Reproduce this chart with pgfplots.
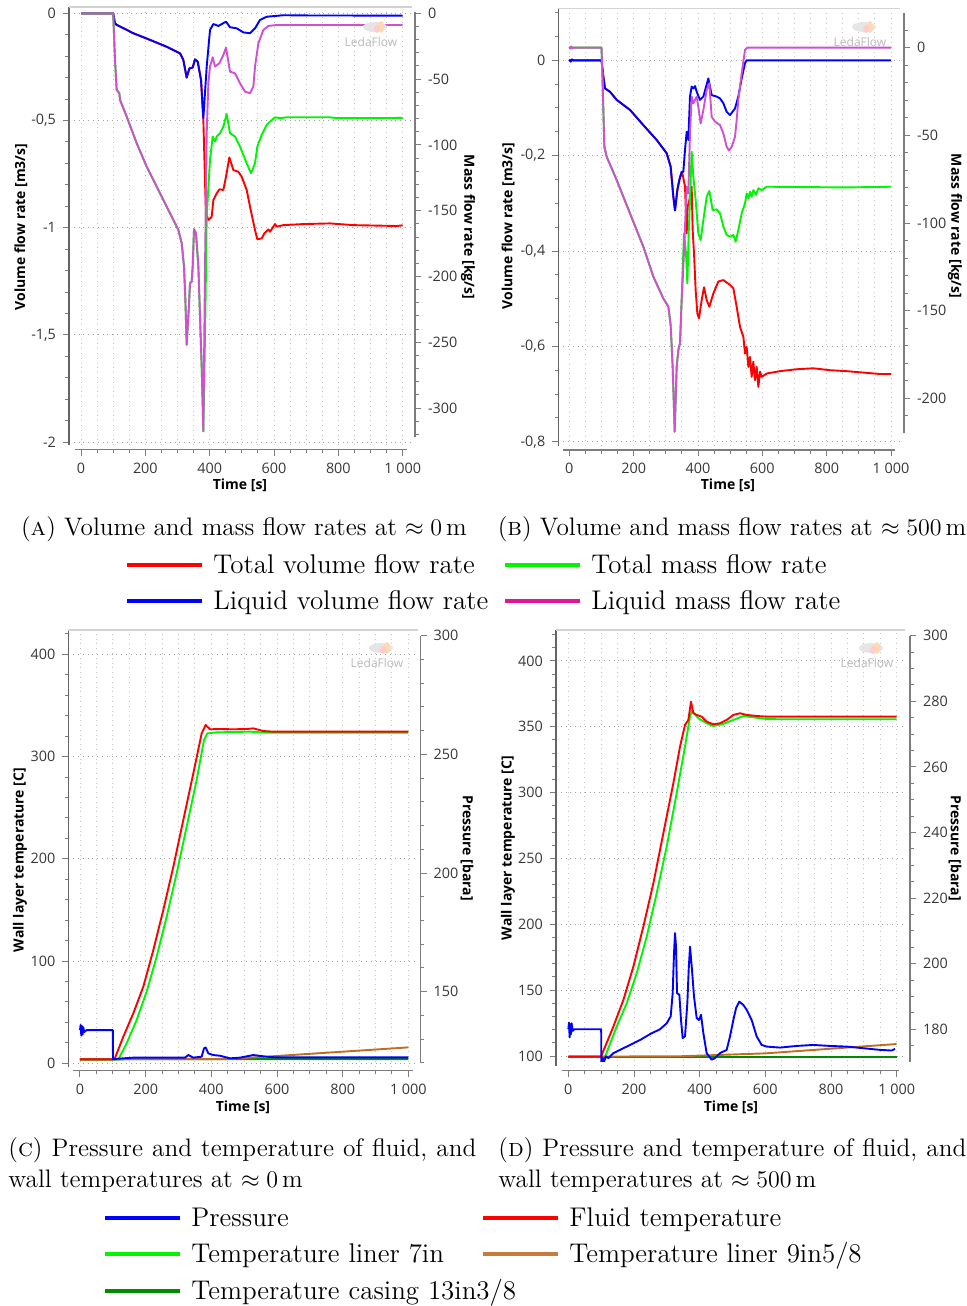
\documentclass[border=0pt]{standalone}
\usepackage{pgfplots}
\pgfplotsset{compat=1.18}
\usepackage{fontspec}
\newfontfamily\leda{Open Sans}

\definecolor{lred}{RGB}{255,0,0}
\definecolor{lgreen}{RGB}{0,245,0}
\definecolor{lblue}{RGB}{0,0,255}
\definecolor{lmag}{RGB}{208,80,208}
\definecolor{legmag}{RGB}{228,20,150}
\definecolor{lbrown}{RGB}{190,110,30}
\definecolor{legbrown}{RGB}{198,124,60}
\definecolor{ldgreen}{RGB}{0,140,0}
\definecolor{axgray}{RGB}{125,125,125}
\definecolor{ticktext}{RGB}{55,55,55}
\definecolor{gridgray}{RGB}{195,195,195}

\pgfplotsset{
  lbase/.style={scale only axis, anchor=south west,
    tick label style={font=\leda\fontsize{7.2}{8.6}\selectfont, text=ticktext},
    tick align=outside, major tick length=3pt, minor tick length=1.8pt,
    every tick/.style={axgray, line width=0.5pt}},
  lleft/.style={lbase, axis x line*=bottom, axis y line*=left,
    x axis line style={draw=none}, xtick={0,50,...,1000}, xticklabels={},
    xtick style={draw=none}, xmajorgrids, ymajorgrids,
    major x grid style={dotted, gridgray, line width=0.45pt},
    major y grid style={dotted, gray!75, line width=0.5pt},
    y axis line style={axgray!80!black, line width=0.8pt},
    after end axis/.code={\draw[gray!35, line width=0.7pt] (rel axis cs:0,1)--(rel axis cs:1,1);}},
  lright/.style={lbase, axis x line=none, axis y line*=right,
    y axis line style={axgray, line width=0.7pt}},
  lbottom/.style={lbase, axis x line*=bottom, axis y line=none, height=2pt, ymin=0, ymax=1,
    xtick={0,200,...,1000}, minor xtick={50,100,...,950},
    xticklabels={0,200,400,600,800,{1 000}},
    x axis line style={axgray, line width=0.7pt}},
  ser/.style={line width=0.95pt, line join=round}
}

\begin{document}
\begin{tikzpicture}[x=0.5pt,y=-0.5pt]
\useasboundingbox (0,0) rectangle (966,1306);

% ---------------- panel A ----------------
\begin{axis}[lleft, at={(34.5pt,-222.5pt)}, width=171.5pt, height=219pt,
  xmin=-37.3, xmax=1028.9, ymin=-2.0135, ymax=0.0294,
  ytick={-2,-1.5,-1,-0.5,0}, yticklabels={{-2},{-1,5},{-1},{-0,5},{0}},
  minor ytick={-2,-1.9,...,0}]
\addplot[ser, lred] coordinates {(0,0) (100,0) (105.7,-0.047) (110.9,-0.054) (162.7,-0.093) (214.5,-0.124) (266.3,-0.156) (307.8,-0.187) (318.1,-0.218) (328.5,-0.300) (336.8,-0.257) (347.2,-0.253) (354.4,-0.215) (362.7,-0.225) (373.1,-0.311) (380.3,-0.498) (388.3,-0.933) (395.9,-0.964) (406.2,-0.949) (411.4,-0.871) (421.8,-0.840) (430.1,-0.821) (442.5,-0.824) (450.8,-0.762) (461.1,-0.672) (473.6,-0.731) (489.1,-0.739) (499.5,-0.762) (515.0,-0.824) (525.4,-0.902) (540.9,-1.011) (548.2,-1.054) (561.7,-1.050) (570.0,-1.026) (582.4,-1.008) (587.6,-1.019) (603.1,-0.983) (608.3,-0.995) (629.0,-0.988) (691.2,-0.983) (774.1,-0.980) (846.6,-0.988) (981.3,-0.992) (1000,-0.989)};
\addplot[ser, lblue] coordinates {(0,0) (100,0) (105.7,-0.047) (110.9,-0.054) (162.7,-0.093) (214.5,-0.124) (266.3,-0.156) (307.8,-0.187) (318.1,-0.218) (328.5,-0.300) (336.8,-0.257) (347.2,-0.253) (354.4,-0.215) (362.7,-0.225) (373.1,-0.311) (380.3,-0.490) (390.7,-0.249) (401.0,-0.078) (411.4,-0.050) (426.9,-0.059) (450.8,-0.039) (463.2,-0.065) (483.9,-0.070) (504.7,-0.089) (525.4,-0.093) (540.9,-0.070) (556.5,-0.031) (577.2,-0.016) (629.0,-0.009) (700,-0.010) (1000,-0.011)};
\end{axis}
\begin{axis}[lright, at={(34.5pt,-218.5pt)}, width=173pt, height=212.5pt,
  xmin=-37.3, xmax=1038.2, ymin=-321.97, ymax=0.99,
  ytick={-300,-250,...,0}, yticklabels={{-300},{-250},{-200},{-150},{-100},{-50},{0}},
  minor ytick={-320,-310,...,0}]
\addplot[ser, lgreen] coordinates {(0,0) (100,0) (105.7,-35.4) (110.9,-58.2) (119.2,-60.8) (121.2,-65.8) (142.0,-78.5) (173.1,-98.7) (204.1,-116.5) (235.2,-131.6) (261.1,-144.3) (287.0,-157.0) (302.6,-164.6) (313.0,-174.7) (320.2,-192.4) (324.4,-217.7) (328.5,-251.9) (333.7,-230.4) (338.9,-205.1) (344.0,-203.8) (347.2,-192.4) (351.3,-164.1) (357.5,-167.1) (364.8,-192.4) (369.9,-230.4) (375.1,-268.4) (380.3,-317.7) (386.5,-230) (390.7,-154.4) (401.0,-111.4) (409.3,-93.7) (416.6,-97.5) (421.8,-93.7) (432.1,-91.1) (442.5,-86.1) (452.8,-76.5) (463.2,-91.1) (478.8,-93.7) (494.3,-101.3) (515.0,-113.9) (528.5,-121.5) (540.9,-113.9) (548.2,-101.3) (561.7,-92.4) (577.2,-84.8) (587.6,-82.3) (603.1,-79.0) (618.7,-79.7) (639.4,-79.0) (774.1,-79.0) (794.8,-79.7) (1000,-79.5)};
\addplot[ser, lmag] coordinates {(0,0) (100,0) (105.7,-35.4) (110.9,-58.2) (119.2,-60.8) (121.2,-65.8) (142.0,-78.5) (173.1,-98.7) (204.1,-116.5) (235.2,-131.6) (261.1,-144.3) (287.0,-157.0) (302.6,-164.6) (313.0,-174.7) (320.2,-192.4) (324.4,-217.7) (328.5,-251.9) (333.7,-230.4) (338.9,-205.1) (344.0,-203.8) (347.2,-192.4) (351.3,-164.1) (357.5,-167.1) (364.8,-192.4) (369.9,-230.4) (375.1,-268.4) (380.3,-317.7) (385.5,-192.4) (390.7,-91.1) (395.9,-53.2) (401.0,-40.5) (409.3,-33.4) (416.6,-40.5) (430.1,-38.0) (442.5,-31.6) (450.8,-26.1) (463.2,-44.3) (478.8,-45.6) (494.3,-53.2) (509.8,-59.5) (525.4,-60.8) (535.8,-55.7) (540.9,-40.5) (551.3,-22.8) (566.8,-12.7) (582.4,-9.6) (608.3,-8.9) (1000,-8.9)};
\end{axis}
\begin{axis}[lbottom, at={(37.5pt,-224.75pt)}, width=166pt, xmin=-18.7, xmax=1013.4]
\end{axis}

% ---------------- panel B ----------------
\begin{axis}[lleft, at={(279.15pt,-223pt)}, width=170.85pt, height=218.85pt,
  xmin=-34.3, xmax=1028.0, ymin=-0.809, ymax=0.1091,
  ytick={-0.8,-0.6,-0.4,-0.2,0}, yticklabels={{-0,8},{-0,6},{-0,4},{-0,2},{0}},
  minor ytick={-0.8,-0.75,-0.7,-0.65,-0.6,-0.55,-0.5,-0.45,-0.4,-0.35,-0.3,-0.25,-0.2,-0.15,-0.1,-0.05,0,0.05,0.1}]
\addplot[ser, lred] coordinates {(0,0) (100,0) (100.5,-0.003) (105.7,-0.034) (110.9,-0.059) (126.4,-0.066) (147.2,-0.083) (188.6,-0.104) (230.1,-0.136) (271.5,-0.167) (302.6,-0.195) (315.0,-0.223) (323.3,-0.286) (328.5,-0.315) (335.8,-0.272) (342.0,-0.251) (349.2,-0.234) (351.3,-0.237) (359.6,-0.265) (364.8,-0.363) (367.9,-0.307) (373.1,-0.293) (380.3,-0.265) (383.4,-0.356) (387.6,-0.405) (392.7,-0.482) (397.9,-0.531) (403.1,-0.541) (411.4,-0.503) (418.7,-0.476) (427.0,-0.503) (435.2,-0.517) (447.7,-0.489) (463.2,-0.464) (478.8,-0.461) (499.5,-0.471) (509.8,-0.478) (520.2,-0.517) (530.6,-0.559) (541.0,-0.580) (546.1,-0.615) (551.3,-0.601) (556.5,-0.643) (561.7,-0.622) (566.8,-0.664) (572.0,-0.632) (577.2,-0.671) (582.4,-0.643) (587.6,-0.685) (592.7,-0.653) (597.9,-0.664) (613.5,-0.657) (654.9,-0.652) (706.7,-0.648) (758.5,-0.646) (810.4,-0.650) (862.2,-0.652) (914.0,-0.655) (965.8,-0.658) (1000,-0.658)};
\addplot[ser, lblue] coordinates {(0,0.002) (4,-0.003) (8,0.002) (12,0) (100,0) (100.5,-0.003) (105.7,-0.034) (110.9,-0.059) (126.4,-0.066) (147.2,-0.083) (188.6,-0.104) (230.1,-0.136) (271.5,-0.167) (302.6,-0.195) (315.0,-0.223) (323.3,-0.286) (328.5,-0.315) (335.8,-0.272) (342.0,-0.251) (349.2,-0.234) (354.4,-0.234) (359.6,-0.188) (364.8,-0.150) (369.9,-0.167) (375.1,-0.076) (380.3,-0.055) (385.5,-0.059) (390.7,-0.054) (395.9,-0.066) (406.2,-0.083) (416.6,-0.076) (432.1,-0.038) (442.5,-0.073) (458.0,-0.076) (468.4,-0.080) (478.8,-0.090) (489.1,-0.108) (499.5,-0.115) (515.0,-0.101) (525.4,-0.076) (535.8,-0.038) (546.1,-0.006) (551.3,0) (1000,0)};
\end{axis}
\begin{axis}[lright, at={(279.15pt,-216.65pt)}, width=172.85pt, height=210.3pt,
  xmin=-34.3, xmax=1040.4, ymin=-219.9, ymax=19.94,
  ytick={-200,-150,...,0}, yticklabels={{-200},{-150},{-100},{-50},{0}},
  minor ytick={-210,-200,...,20}]
\addplot[ser, lgreen] coordinates {(0,0) (100,0) (103.6,-20.3) (108.8,-56.5) (116.1,-62.2) (147.2,-75.5) (188.6,-94.5) (230.1,-113.5) (261.1,-130.6) (292.2,-143.0) (307.8,-147.7) (315.0,-158.2) (321.2,-181.9) (327.5,-219.0) (333.7,-181.9) (338.9,-172.4) (344.0,-168.6) (349.2,-143.9) (356.5,-105.9) (362.7,-117.3) (366.8,-134.4) (371.0,-105.9) (375.1,-86.9) (380.3,-59.3) (385.5,-73.6) (392.7,-86.9) (401.0,-105.9) (408.3,-109.7) (416.6,-98.3) (427.0,-85.0) (435.2,-81.7) (445.6,-92.6) (458.0,-92.2) (468.4,-94.5) (478.8,-102.1) (489.1,-106.8) (499.5,-107.8) (509.8,-106.8) (517.1,-110.6) (525.4,-104.0) (535.8,-94.5) (546.1,-88.8) (551.3,-83.1) (556.5,-85.9) (561.7,-82.1) (566.8,-85.0) (572.0,-81.2) (580.3,-84.0) (587.6,-80.2) (597.9,-81.2) (613.5,-79.3) (862.2,-79.7) (1000,-79.3)};
\addplot[ser, lmag] coordinates {(0,0.6) (3,-0.6) (6,0.6) (9,-0.4) (12,0) (100,0) (103.6,-20.3) (108.8,-56.5) (116.1,-62.2) (147.2,-75.5) (188.6,-94.5) (230.1,-113.5) (261.1,-130.6) (292.2,-143.0) (307.8,-147.7) (315.0,-158.2) (321.2,-181.9) (327.5,-219.0) (333.7,-181.9) (338.9,-172.4) (344.0,-168.6) (349.2,-143.9) (354.4,-124.9) (359.6,-102.1) (364.8,-79.3) (369.9,-83.1) (375.1,-48.9) (380.3,-27.9) (385.5,-31.7) (395.9,-27.9) (401.0,-33.7) (408.3,-43.2) (416.6,-35.6) (427.0,-24.1) (435.2,-20.3) (442.5,-39.4) (452.8,-42.2) (468.4,-44.1) (478.8,-48.9) (489.1,-56.5) (496.4,-58.7) (504.7,-56.5) (515.0,-50.8) (520.2,-41.3) (525.4,-29.8) (535.8,-14.6) (546.1,-1.3) (553.4,0) (1000,0)};
\end{axis}
\begin{axis}[lbottom, at={(281.65pt,-225pt)}, width=165.85pt, xmin=-18.7, xmax=1012.4]
\end{axis}

% ---------------- panel C ----------------
\begin{axis}[lleft, at={(34.165pt,-533.335pt)}, width=175pt, height=218.335pt,
  xmin=-35.5, xmax=1030.5, ymin=-3.27, ymax=423.8,
  ytick={0,100,...,400}, yticklabels={0,100,200,300,400},
  minor ytick={0,20,...,420}]
\addplot[ser, lgreen] coordinates {(0,3.9) (117,3.9) (142.1,19.6) (172.6,42.4) (203.0,70.1) (233.5,104.3) (264.0,143.4) (294.4,185.8) (324.9,231.5) (355.3,277.1) (377.7,316.2) (387.8,322.7) (416.2,323.7) (517.8,324.4) (568.5,323.4) (1000,323.4)};
\addplot[ser, ldgreen] coordinates {(0,3.9) (500,4.1) (1000,4.1)};
\addplot[ser, lbrown] coordinates {(0,3.9) (450,4.2) (600,7.2) (800,11.4) (1000,15.6)};
\addplot[ser, lred] coordinates {(0,3.9) (105,3.9) (132.0,26.1) (162.4,48.9) (192.9,75.0) (223.4,110.8) (253.8,150.0) (284.3,192.3) (314.7,238.0) (345.2,283.6) (370.6,322.7) (382.7,330.9) (395.9,326.7) (426.4,327.0) (467.0,326.7) (507.6,327.0) (527.9,327.6) (558.4,325.0) (588.8,324.4) (1000,324.4)};
\end{axis}
\begin{axis}[lright, at={(34.165pt,-531.665pt)}, width=176.17pt, height=213.83pt,
  xmin=-35.5, xmax=1037.6, ymin=119.8, ymax=300,
  ytick={150,200,250,300}, yticklabels={150,200,250,300},
  minor ytick={120,130,...,300}]
\addplot[ser, lblue] coordinates {(0,133.8) (2,136.0) (4,131.5) (6,135.5) (8,132.0) (10,135.0) (13,133.0) (20,133.8) (100,133.8) (100.5,121.6) (162,122.2) (319.8,122.2) (330,123.3) (345.2,122.2) (370.6,122.6) (377.7,126.1) (382.7,126.5) (390.9,124.0) (406.1,123.3) (426.4,123.0) (456.9,121.9) (487.3,122.2) (527.9,123.3) (568.5,122.6) (599,122.3) (1000,122.3)};
\end{axis}
\begin{axis}[lbottom, at={(36.335pt,-535.335pt)}, width=170.33pt, xmin=-22.3, xmax=1015.2]
\end{axis}

% ---------------- panel D ----------------
\begin{axis}[lleft, at={(278pt,-533pt)}, width=174.5pt, height=218pt,
  xmin=-37.6, xmax=1025.4, ymin=92.4, ymax=423.5,
  ytick={100,150,...,400}, yticklabels={100,150,200,250,300,350,400},
  minor ytick={100,110,...,420}]
\addplot[ser, lgreen] coordinates {(0,99.5) (112,99.5) (147.2,122.3) (177.7,140.0) (208.1,162.8) (238.6,190.6) (269.0,223.5) (299.5,259.0) (329.9,299.5) (355.3,334.9) (370.6,357.7) (376.6,362.3) (395.9,356.5) (421.3,352.7) (441.6,350.6) (472.1,352.2) (502.5,355.2) (533.0,358.2) (563.5,357.2) (604.1,355.9) (644.7,355.7) (1000,355.7)};
\addplot[ser, ldgreen] coordinates {(0,99.5) (1000,99.5)};
\addplot[ser, lbrown] coordinates {(0,99.5) (340,99.8) (600,102.0) (1000,109.1)};
\addplot[ser, lred] coordinates {(0,99.5) (100,99.5) (101.5,100.8) (137.1,122.3) (167.5,142.5) (198.0,167.8) (228.4,198.2) (258.9,231.1) (289.3,269.1) (319.8,307.1) (340.1,334.9) (355.3,351.4) (365.5,355.2) (373.6,369.1) (380.7,360.3) (390.9,359.0) (406.1,357.7) (421.3,353.9) (441.6,351.9) (461.9,352.7) (482.2,355.2) (502.5,359.0) (522.8,360.3) (543.1,359.0) (573.6,358.2) (604.1,357.7) (1000,357.7)};
\end{axis}
\begin{axis}[lright, at={(278pt,-530.835pt)}, width=177pt, height=213pt,
  xmin=-37.6, xmax=1040.6, ymin=170.1, ymax=300,
  ytick={180,200,...,300}, yticklabels={180,200,220,240,260,280,300},
  minor ytick={170,175,...,300}]
\addplot[ser, lblue] coordinates {(0,180) (2,182) (4,177.5) (6,181.5) (8,178.5) (10,181.8) (13,179.5) (18,180) (100,180) (100.5,169.1) (104.6,171.2) (108.6,170.1) (114.7,171.7) (121.8,171.2) (137.1,172.7) (177.7,174.7) (218.3,176.7) (248.7,178.5) (279.2,180.0) (299.5,181.8) (311.7,183.9) (317.8,191.0) (321.8,203.2) (324.9,209.3) (327.9,205.2) (331.0,191.0) (338.1,190.5) (343.1,182.8) (348.2,177.3) (355.3,177.8) (362.4,187.9) (366.5,198.1) (370.6,205.2) (376.6,198.1) (382.7,190.0) (390.9,183.4) (398.0,182.8) (404.1,184.4) (411.2,178.8) (421.3,172.7) (436.5,170.7) (446.7,171.2) (461.9,172.7) (482.2,173.7) (492.4,177.8) (502.5,182.8) (510.7,186.4) (520.8,188.4) (533.0,187.4) (543.1,185.9) (558.4,182.8) (573.6,177.8) (588.8,175.2) (604.1,174.7) (644.7,174.4) (695.4,174.9) (746.2,175.2) (796.9,174.9) (847.7,174.7) (898.5,174.2) (949.2,173.7) (984.8,173.5) (994.9,174.0)};
\end{axis}
\begin{axis}[lbottom, at={(280.835pt,-535.335pt)}, width=168.5pt, xmin=-20.3, xmax=1006.1]
\end{axis}

% ---------------- axis titles ----------------
\tikzset{axtitle/.style={font=\leda\bfseries\fontsize{7}{8}\selectfont, inner sep=0}}
\node[axtitle, rotate=90] at (21,227) {Volume flow rate [m3/s]};
\node[axtitle, rotate=-90] at (468,227) {Mass flow rate [kg/s]};
\node[axtitle] at (240,485) {Time [s]};
\node[axtitle, rotate=90] at (508,226) {Volume flow rate [m3/s]};
\node[axtitle, rotate=-90] at (955,226) {Mass flow rate [kg/s]};
\node[axtitle] at (728,485) {Time [s]};
\node[axtitle, rotate=90] at (20,860) {Wall layer temperature [C]};
\node[axtitle, rotate=-90] at (467,848) {Pressure [bara]};
\node[axtitle] at (243,1107) {Time [s]};
\node[axtitle, rotate=90] at (508,848) {Wall layer temperature [C]};
\node[axtitle, rotate=-90] at (955,848) {Pressure [bara]};
\node[axtitle] at (731,1107) {Time [s]};

% watermark
\tikzset{wmark/.style={font=\leda\fontsize{6}{7}\selectfont, text=gray!55, inner sep=0}}
\foreach \wx/\wy in {371/42, 860/42, 377/663, 867/663} {
  \fill[gray!20] (\wx+4,\wy-15) ellipse (12 and 5);
  \fill[orange!30] (\wx+10,\wy-15) ellipse (3 and 6);
  \fill[red!20] (\wx+6,\wy-13) ellipse (3 and 4);
  \node[wmark] at (\wx,\wy) {LedaFlow};
}

% ---------------- captions and legends ----------------
\tikzset{captxt/.style={font=\fontsize{12.65}{15}\selectfont, inner sep=0},
         legtxt/.style={font=\fontsize{13.5}{15}\selectfont, inner sep=0, anchor=base west}}
\node[captxt, anchor=base] at (244,535) {(\textsc{a}) Volume and mass flow rates at $\approx 0\,$m};
\node[captxt, anchor=base] at (732,535) {(\textsc{b}) Volume and mass flow rates at $\approx 500\,$m};

\draw[lred, line width=1.6pt] (127,565) -- (202,565);
\node[legtxt] at (213,573) {Total volume flow rate};
\draw[lgreen, line width=1.6pt] (505,565) -- (580,565);
\node[legtxt] at (591,573) {Total mass flow rate};
\draw[lblue, line width=1.6pt] (127,601) -- (202,601);
\node[legtxt] at (213,609) {Liquid volume flow rate};
\draw[legmag, line width=1.6pt] (505,601) -- (580,601);
\node[legtxt] at (591,609) {Liquid mass flow rate};

\node[captxt, anchor=base west] at (8,1156) {\makebox[234pt][s]{(\textsc{c}) Pressure and temperature of fluid, and}};
\node[captxt, anchor=base west] at (8,1187) {wall temperatures at $\approx 0\,$m};
\node[captxt, anchor=base west] at (498,1156) {\makebox[234pt][s]{(\textsc{d}) Pressure and temperature of fluid, and}};
\node[captxt, anchor=base west] at (498,1187) {wall temperatures at $\approx 500\,$m};

\draw[lblue, line width=1.6pt] (105,1218) -- (180,1218);
\node[legtxt] at (191,1226) {Pressure};
\draw[lred, line width=1.6pt] (483,1218) -- (558,1218);
\node[legtxt] at (569,1226) {Fluid temperature};
\draw[lgreen, line width=1.6pt] (105,1254) -- (180,1254);
\node[legtxt] at (191,1262) {Temperature liner 7in};
\draw[legbrown, line width=1.6pt] (483,1254) -- (558,1254);
\node[legtxt] at (569,1262) {Temperature liner 9in5/8};
\draw[ldgreen, line width=1.6pt] (105,1291) -- (180,1291);
\node[legtxt] at (191,1299) {Temperature casing 13in3/8};
\end{tikzpicture}
\end{document}
